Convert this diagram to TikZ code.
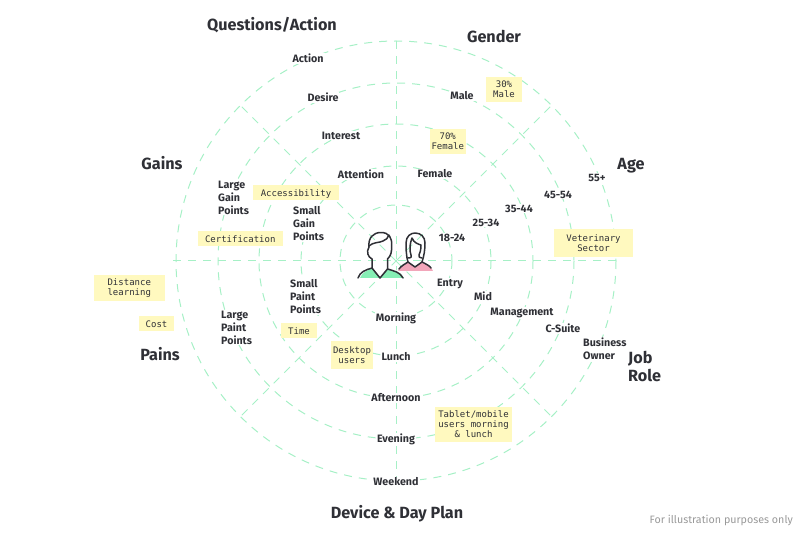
\documentclass[tikz,border=0pt]{standalone}
\usepackage{fontspec}
\setmainfont{Fira Sans}
\setmonofont{DejaVu Sans Mono}
\definecolor{ringline}{HTML}{A6F0C6}
\definecolor{sticky}{HTML}{FFF9BF}
\definecolor{inkdark}{HTML}{2F3036}
\definecolor{shirtgreen}{HTML}{86EFB5}
\definecolor{shirtpink}{HTML}{F2A6BA}
\begin{document}
\begin{tikzpicture}[x=1pt, y=-1pt,
    ring/.style={draw=ringline, line width=1pt, dash pattern=on 8pt off 7pt},
    heading/.style={font=\fontsize{16.2}{18}\selectfont\bfseries, text=inkdark, inner sep=0pt, align=left, yshift=-1pt},
    lbl/.style={font=\fontsize{10.7}{13}\selectfont\bfseries, text=inkdark, fill=white, inner sep=1pt, align=left, yshift=-0.7pt},
    note/.style={font=\fontsize{9}{10}\ttfamily\selectfont, text=inkdark, fill=sticky, inner sep=0pt, align=center,
      execute at begin node={\rule{0pt}{9pt}}},
    person/.style={draw=inkdark, line width=1.5pt, line join=round, line cap=round}]
    \useasboundingbox (0,0) rectangle (800,534);
    % rings and spokes
    \foreach \r in {56,95,137,178,220}
      \draw[ring] (396,261) circle (\r);
    \draw[ring] (173,261) -- (620,261);
    \draw[ring] (396,41) -- (396,481);
    \foreach \a in {45,135,225,315}
      \draw[ring] (396,261) -- ++(\a:220);
    % labels on the rings
    \foreach \n/\x/\y/\t in {action/308/58/Action, desire/323/97/Desire, interest/341/135/Interest,
        attention/361/174/Attention, female/435/173/Female, male/462/95/Male,
        ageA/452/237/18-24, ageB/486/222/25-34, ageC/519/208/35-44, ageD/558/194/45-54, ageE/597/177/55+,
        entry/450/283/Entry, mid/483/296/Mid, management/522/312/Management, csuite/563/328/C-Suite,
        morning/396/318/Morning, lunch/396/356/Lunch, afternoon/396/397/Afternoon,
        evening/396/439/Evening, weekend/396/481/Weekend}
      \node[lbl] (\n) at (\x,\y) {\t};
    \node[lbl, anchor=west] (largegain) at (217,197) {Large\\Gain\\Points};
    \node[lbl, anchor=west] (smallgain) at (292,223) {Small\\Gain\\Points};
    \node[lbl, anchor=west] (smallpaint) at (289,296) {Small\\Paint\\Points};
    \node[lbl, anchor=west] (largepaint) at (220,327) {Large\\Paint\\Points};
    \node[lbl, anchor=west] (owner) at (582,348) {Business\\Owner};
    % headings
    \node[heading] (hquestions) at (272,24) {Questions/Action};
    \node[heading] (hgender) at (494,35) {Gender};
    \node[heading] (hgains) at (162,162) {Gains};
    \node[heading] (hage) at (631,165) {Age};
    \node[heading] (hpains) at (160,353) {Pains};
    \node[heading, anchor=west] (hjob) at (628,365) {Job\\Role};
    \node[heading] (hdevice) at (397,513) {Device \& Day Plan};
    \node[anchor=east, inner sep=0pt, text=gray!80, font=\fontsize{10.7}{13}\selectfont] (disclaimer) at (793,520.5) {For illustration purposes only};
    % sticky notes
    \foreach \n/\x/\y/\w/\h/\t in {nMale/504/89.5/36/25/{30\%\\Male}, nFemale/447.75/141.5/36.5/25/{70\%\\Female},
        nVet/593.5/243/79/28/{Veterinary\\Sector}, nAccess/296/192.5/86/15/Accessibility,
        nCert/240.25/238.5/85.5/15/Certification, nDistance/129.25/288/71.5/26/{Distance\\learning},
        nCost/156.5/323.5/35/15/Cost, nTime/299/330.5/36/15/Time, nDesktop/352/355/42/28/{Desktop\\users},
        nTablet/473.5/424.5/77/35/{Tablet/mobile\\users morning\\\& lunch}}
      \node[note, minimum width=\w pt, minimum height=\h pt] (\n) at (\x,\y) {\t};
    % people
    \fill[shirtpink] (398,271) .. controls (400,266) and (405,264) .. (408,262) -- (415,267) -- (422,262) .. controls (427,264) and (431,266) .. (433,271) -- cycle;
    \draw[person] (399,269) .. controls (401,266) and (405,264) .. (408,262) -- (415,267) -- (422,262) .. controls (426,264) and (430,266) .. (431,268);
    \draw[person] (408,262) .. controls (406,256) and (406,246) .. (406,243) .. controls (406,236) and (411,233) .. (415,233) .. controls (421,233) and (425,237) .. (425,243) .. controls (425,250) and (424,256) .. (422,262);
    \draw[person] (408,258) .. controls (411,258) and (412,257) .. (411,255) .. controls (409,250) and (410,243) .. (412,238) .. controls (414,243) and (418,244) .. (421,245) .. controls (421,250) and (420,253) .. (419,255) .. controls (418,257) and (420,258) .. (422,258);
    \fill[white] (372,262) -- (388,262) -- (405,279) -- (356,279) -- cycle;
    \fill[shirtgreen] (360,278) .. controls (362,273) and (366,271) .. (372,268) -- (380,278) -- (387.5,269) .. controls (396,271) and (402,273) .. (404,278) -- cycle;
    \draw[person] (358,278) .. controls (360,272) and (365,270) .. (372,268) -- (380,278) -- (387.5,269) .. controls (394,271) and (400,272) .. (403,278);
    \draw[person] (372,268) -- (372,259) .. controls (368,257) and (366,252) .. (369,247) .. controls (368,238) and (373,232.5) .. (381,232.5) .. controls (389,232.5) and (392.5,238) .. (391.5,246) .. controls (392,251) and (391,256) .. (387.5,259) -- (387.5,269);
    \draw[person] (369,246) .. controls (373,242) and (379,243) .. (383,241) .. controls (386,240) and (388,238) .. (389,235);
\end{tikzpicture}
\end{document}
